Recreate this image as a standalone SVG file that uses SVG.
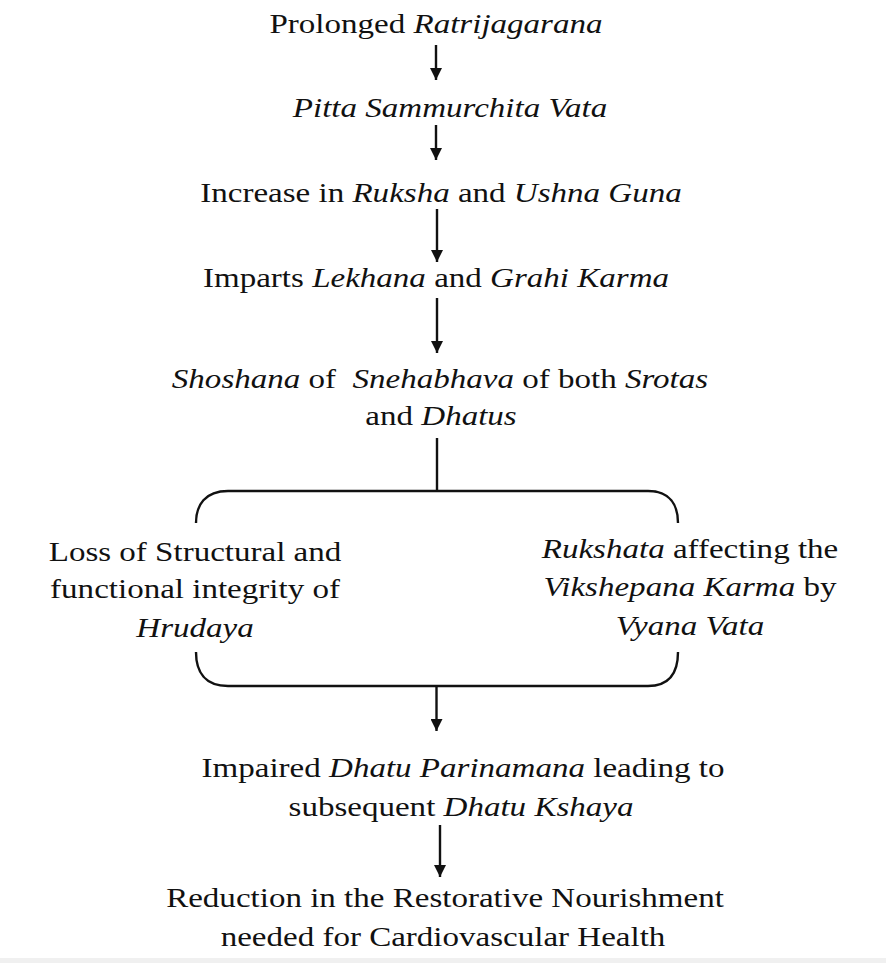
<svg xmlns="http://www.w3.org/2000/svg" width="886" height="963" viewBox="0 0 886 963">
<style>
text{font-family:"Liberation Serif","Times New Roman",serif;font-size:28px;fill:#111111;text-anchor:middle}
.i{font-style:italic}
.ln{stroke:#111111;stroke-width:2.4;fill:none}
</style>
<defs>
<marker id="ah" viewBox="0 0 12 12" refX="12" refY="6" markerWidth="12" markerHeight="12" markerUnits="userSpaceOnUse" orient="auto">
<path d="M0,0 L12,6 L0,12 z" fill="#111111"/>
</marker>
</defs>
<rect width="886" height="963" fill="#ffffff"/>
<rect x="0" y="958" width="886" height="5" fill="#f0f0f0"/>
<g id="connectors">
<line class="ln" x1="436" y1="45" x2="436" y2="80" marker-end="url(#ah)"/>
<line class="ln" x1="436" y1="125" x2="436" y2="160" marker-end="url(#ah)"/>
<line class="ln" x1="437" y1="209" x2="437" y2="262" marker-end="url(#ah)"/>
<line class="ln" x1="437" y1="298" x2="437" y2="353" marker-end="url(#ah)"/>
<line class="ln" x1="437" y1="438" x2="437" y2="491"/>
<path class="ln" d="M196,523 C196,505 205,491 228,491 L648,491 C670,491 678,505 678,523"/>
<path class="ln" d="M196,652 C196,672 205,686 228,686 L648,686 C670,686 678,672 678,652"/>
<line class="ln" x1="436.5" y1="686" x2="436.5" y2="731" marker-end="url(#ah)"/>
<line class="ln" x1="440" y1="825" x2="440" y2="877" marker-end="url(#ah)"/>
</g>
<g id="n1"><text transform="translate(436,33) scale(1.18,1)">Prolonged <tspan class="i">Ratrijagarana</tspan></text></g>
<g id="n2"><text transform="translate(450,117) scale(1.18,1)" class="i">Pitta Sammurchita Vata</text></g>
<g id="n3"><text transform="translate(441,202) scale(1.18,1)">Increase in <tspan class="i">Ruksha</tspan> and <tspan class="i">Ushna Guna</tspan></text></g>
<g id="n4"><text transform="translate(436,287) scale(1.18,1)">Imparts <tspan class="i">Lekhana</tspan> and <tspan class="i">Grahi Karma</tspan></text></g>
<g id="n5">
<text transform="translate(440,388) scale(1.18,1)"><tspan class="i">Shoshana</tspan> of&#160; <tspan class="i">Snehabhava</tspan> of both <tspan class="i">Srotas</tspan></text>
<text transform="translate(441,425) scale(1.18,1)">and <tspan class="i">Dhatus</tspan></text>
</g>
<g id="n6">
<text transform="translate(195,561) scale(1.18,1)">Loss of Structural and</text>
<text transform="translate(195,598) scale(1.18,1)">functional integrity of</text>
<text transform="translate(195,637) scale(1.18,1)" class="i">Hrudaya</text>
</g>
<g id="n7">
<text transform="translate(690,558) scale(1.18,1)"><tspan class="i">Rukshata</tspan> affecting the</text>
<text transform="translate(690,596) scale(1.18,1)"><tspan class="i">Vikshepana Karma</tspan> by</text>
<text transform="translate(690,635) scale(1.18,1)" class="i">Vyana Vata</text>
</g>
<g id="n8">
<text transform="translate(463,777) scale(1.18,1)">Impaired <tspan class="i">Dhatu Parinamana</tspan> leading to</text>
<text transform="translate(461,816) scale(1.18,1)">subsequent <tspan class="i">Dhatu Kshaya</tspan></text>
</g>
<g id="n9">
<text transform="translate(445,907) scale(1.18,1)">Reduction in the Restorative Nourishment</text>
<text transform="translate(443,946) scale(1.18,1)">needed for Cardiovascular Health</text>
</g>
</svg>
